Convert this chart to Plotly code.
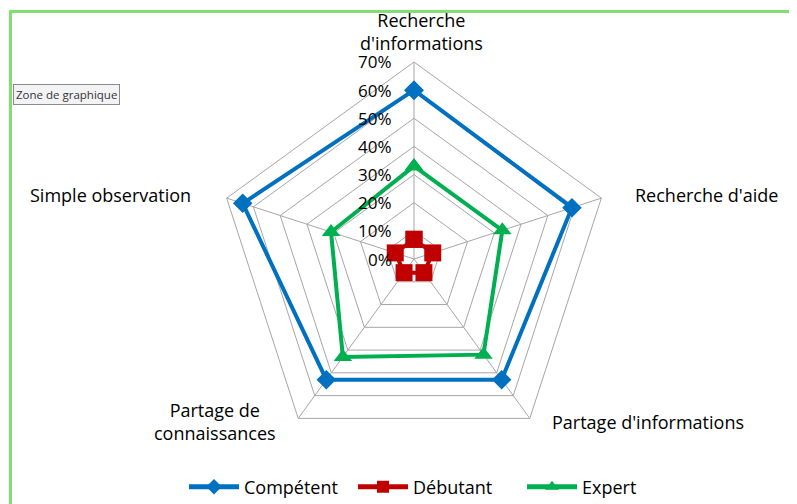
import plotly.graph_objects as go

categories = ["Recherche d'informations", "Recherche d'aide", "Partage d'informations",
              "Partage de connaissances", "Simple observation"]
competent = [60, 59, 53, 53, 64]
debutant = [7, 7, 6, 6, 7]
expert = [33, 33, 42, 43, 31]
radial_ticks = [0, 10, 20, 30, 40, 50, 60, 70]
r_max = 70

W, H = 797, 504
OFF = 8  # page body margin shifts the figure
FONT = "Open Sans"


def px(x):
    return (x - OFF) / W


def py(y):
    return 1 - (y - OFF) / H


cx, cy, R = 414, 259, 197


def closed(v):
    return v + v[:1]


cats_closed = closed(categories)

fig = go.Figure()
fig.add_trace(go.Scatterpolar(
    r=closed(competent), theta=cats_closed, name="Compétent", mode="lines+markers",
    line=dict(color="#0070C0", width=4),
    marker=dict(symbol="diamond", size=15, color="#0070C0")))
fig.add_trace(go.Scatterpolar(
    r=closed(debutant), theta=cats_closed, name="Débutant", mode="lines+markers",
    line=dict(color="#C00000", width=4),
    marker=dict(symbol="square", size=17, color="#C00000")))
fig.add_trace(go.Scatterpolar(
    r=closed(expert), theta=cats_closed, name="Expert", mode="lines+markers",
    line=dict(color="#00B050", width=4),
    marker=dict(symbol="triangle-up", size=16, color="#00B050")))

fig.update_layout(
    width=W, height=H,
    margin=dict(l=0, r=0, t=0, b=0, autoexpand=False),
    paper_bgcolor="white",
    font=dict(family=FONT, size=18, color="black"),
    polar=dict(
        domain=dict(x=[px(cx - R), px(cx + R)], y=[py(cy + R), py(cy - R)]),
        bgcolor="white",
        gridshape="linear",
        radialaxis=dict(
            range=[0, r_max], tickvals=radial_ticks, showticklabels=False,
            angle=90, showline=False, ticks="", gridcolor="#A6A6A6", gridwidth=1),
        angularaxis=dict(
            type="category", rotation=90, direction="clockwise",
            categoryarray=categories, showticklabels=False,
            showline=True, linecolor="#A6A6A6", linewidth=1,
            gridcolor="#A6A6A6", gridwidth=1, ticks=""),
    ),
    legend=dict(orientation="h", x=px(184), xanchor="left", y=py(487), yanchor="middle",
                font=dict(family=FONT, size=18), traceorder="normal",
                itemsizing="constant", itemwidth=50, entrywidth=104, entrywidthmode="pixels"),
    showlegend=True,
)

# radial tick labels (left of the vertical spoke, at each grid level)
for v in radial_ticks:
    fig.add_annotation(xref="paper", yref="paper", x=px(cx - 20), y=py(cy - v / r_max * R),
                       text=f"{v}%", xanchor="right", yanchor="middle", showarrow=False,
                       font=dict(family=FONT, size=17, color="black"))

# category labels
label_specs = [
    ("Recherche<br>d'informations", 422, 31.5, "center"),
    ("Recherche d'aide", 633, 195, "left"),
    ("Partage d'informations", 550, 422, "left"),
    ("Partage de<br>connaissances", 215, 421.5, "center"),
    ("Simple observation", 193, 195, "right"),
]
for txt, x, y, anchor in label_specs:
    fig.add_annotation(xref="paper", yref="paper", x=px(x), y=py(y), text=txt,
                       xanchor=anchor, yanchor="middle", align="center", showarrow=False,
                       font=dict(family=FONT, size=18, color="black"))

# chart area border (partially visible, green)
fig.add_shape(type="rect", xref="paper", yref="paper",
              x0=px(10.5), x1=1.05, y0=-0.05, y1=py(11.5),
              line=dict(color="#7FE070", width=3), fillcolor="rgba(0,0,0,0)", layer="above")

# tooltip box
fig.add_annotation(xref="paper", yref="paper", x=px(13), y=py(94),
                   xanchor="left", yanchor="middle", text="Zone de graphique", showarrow=False,
                   font=dict(family=FONT, size=11.5, color="#333333"),
                   bgcolor="#F3F3F6", bordercolor="#8A8A8A", borderwidth=1, borderpad=2)

fig.write_html("out.html")
